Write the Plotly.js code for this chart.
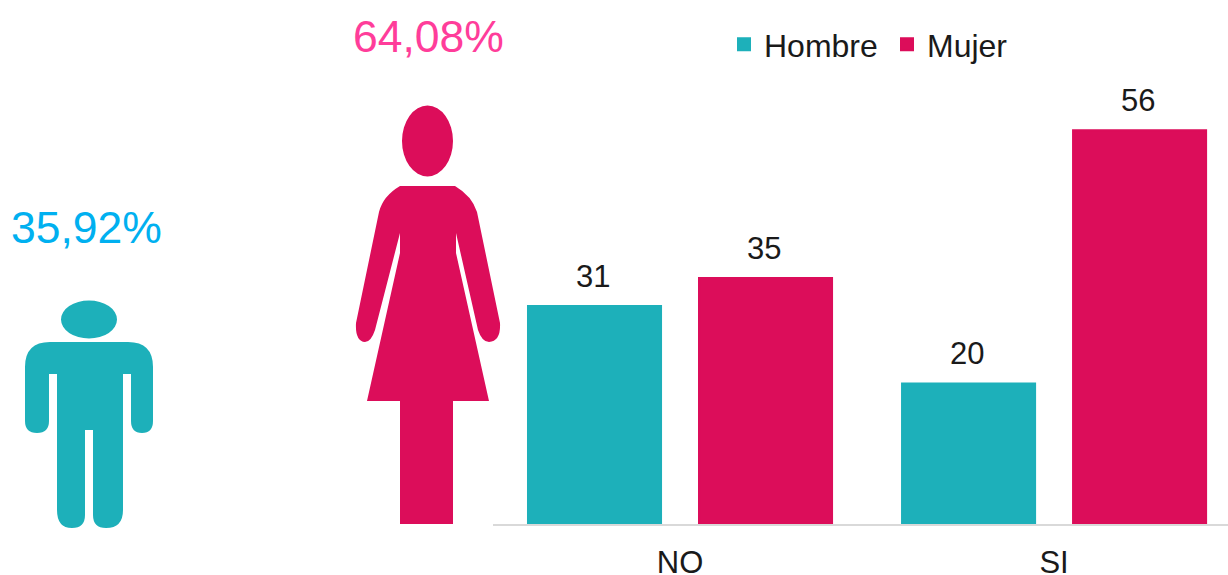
<!DOCTYPE html>
<html><head><meta charset="utf-8">
<script src="https://cdn.plot.ly/plotly-3.0.1.min.js"></script>
<style>html,body{margin:0;padding:0;background:#fff;overflow:hidden}#c{width:1228px;height:575px}</style>
</head><body><div id="c"></div>
<script>
const categories = ['NO', 'SI'];
const hombre = [31, 20];
const mujer = [35, 56];
const pctHombre = '35,92%';
const pctMujer = '64,08%';
const teal = '#1DB0BA', crimson = '#DC0D5A';
const W = 1228, H = 575;
const font = 'Arial, "Liberation Sans", sans-serif';
const barGap = 0.0856, groupGap = 0.222;
const offset = (1 - barGap) / 4;

const manBody = 'M50,342 H128 Q153,342 153,367 V421 Q153,433 142,433 Q131,433 131,421 V374 H123 V510 Q123,528 106,528 Q93,528 93,515 V430 H85 V515 Q85,528 72,528 Q57,528 57,510 V374 H49 V421 Q49,433 37,433 Q25,433 25,421 V367 Q25,342 50,342 Z';
const womanBody = 'M400,186 H455 Q472,196 477,212 L500,323 Q501,341 489,342 Q482,342 478,330 L456,233 V253 L489,401 H453 V524 H400 V401 H367 L400,253 V233 L375,330 Q371,342 365,342 Q355,341 356,323 L379,212 Q383,196 400,186 Z';

function shape(path, color){
  return {type:'path', xref:'x2', yref:'y2', path:path, fillcolor:color, line:{width:0}, layer:'below'};
}
function ellipse(cx, cy, rx, ry, color){
  return {type:'circle', xref:'x2', yref:'y2', x0:cx-rx, x1:cx+rx, y0:cy-ry, y1:cy+ry, fillcolor:color, line:{width:0}, layer:'below'};
}
function valueLabels(values, shift){
  return values.map((v,i)=>({xref:'x', yref:'y', x:i+shift, y:v, text:String(v), showarrow:false, xanchor:'center', yanchor:'bottom', yshift:10, xshift:-2,
    font:{family:font,size:31,color:'#1a1a1a'}}));
}

const traces = [
  {type:'bar', name:'Hombre', x:categories, y:hombre,
   marker:{color:teal, line:{color:teal,width:2}}, hoverinfo:'x+y+name'},
  {type:'bar', name:'Mujer', x:categories, y:mujer,
   marker:{color:crimson, line:{color:crimson,width:2}}, hoverinfo:'x+y+name'}
];

const layout = {
  width:W, height:H, autosize:false,
  margin:{l:0,r:0,t:0,b:0},
  paper_bgcolor:'#fff', plot_bgcolor:'rgba(0,0,0,0)',
  font:{family:font,color:'#1a1a1a'},
  barmode:'group', bargap:barGap, bargroupgap:groupGap,
  showlegend:true,
  legend:{orientation:'h', x:724/W, xanchor:'left', y:1-17/H, yanchor:'top', font:{family:font,size:32,color:'#1a1a1a'},
          bgcolor:'rgba(0,0,0,0)', entrywidth:118, entrywidthmode:'pixels', traceorder:'normal'},
  xaxis:{domain:[493/W,1], range:[-0.5,1.465], type:'category', showgrid:false, zeroline:false,
         showline:true, linecolor:'#D9D9D9', linewidth:2, ticks:'outside', ticklen:10, tickcolor:'rgba(0,0,0,0)',
         tickfont:{family:font,size:31,color:'#1a1a1a'}},
  yaxis:{domain:[51/H,1-29/H], range:[0,70.4], visible:false, showgrid:false, zeroline:false},
  xaxis2:{domain:[0,1], range:[0,W], visible:false, anchor:'y2', fixedrange:true},
  yaxis2:{domain:[0,1], range:[H,0], visible:false, anchor:'x2', fixedrange:true},
  shapes:[
    ellipse(89,319.5,28,19,teal), shape(manBody,teal),
    ellipse(427.5,141,25.5,35.5,crimson), shape(womanBody,crimson)
  ],
  annotations:[
    {xref:'x2', yref:'y2', x:86, y:227, text:pctHombre, showarrow:false, xanchor:'center', yanchor:'middle', font:{family:font,size:44.5,color:'#00B0F0'}},
    {xref:'x2', yref:'y2', x:428, y:36, text:pctMujer, showarrow:false, xanchor:'center', yanchor:'middle', font:{family:font,size:44.5,color:'#FF3D9A'}}
  ].concat(valueLabels(hombre,-offset), valueLabels(mujer,offset))
};
Plotly.newPlot('c', traces, layout, {displayModeBar:false, staticPlot:true});
</script></body></html>
